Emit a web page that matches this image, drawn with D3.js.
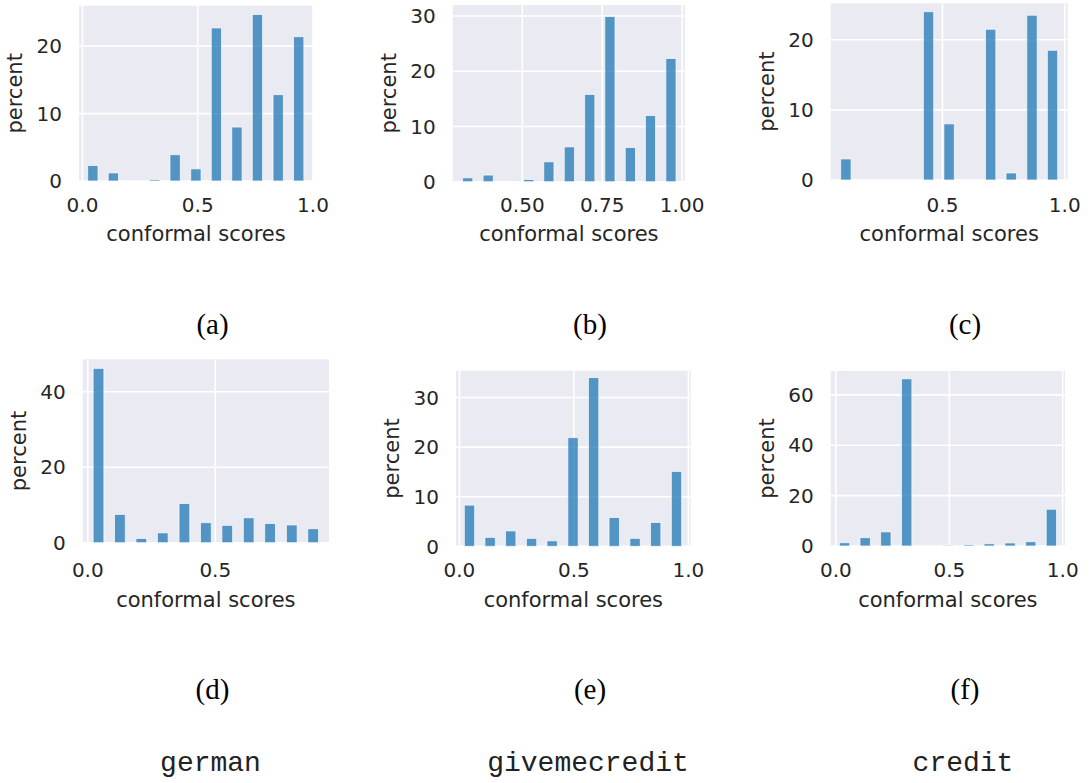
<!DOCTYPE html>
<html lang="en">
<head>
<meta charset="UTF-8">
<title>Conformal scores</title>
<script src="https://cdn.jsdelivr.net/npm/d3@7"></script>
<style>
  body { margin: 0; background: #fff; }
  svg { display: block; }
</style>
</head>
<body>
<div id="chart"></div>
<script>
// bar centres (conformal score) and bar heights (percent) per panel
var scoresA  = [0.045, 0.134, 0.313, 0.402, 0.492, 0.581, 0.670, 0.759, 0.849, 0.938];
var percentA = [2.3, 1.2, 0.2, 3.9, 1.8, 22.7, 8.0, 24.7, 12.8, 21.4];
var scoresB  = [0.329, 0.393, 0.520, 0.583, 0.647, 0.711, 0.774, 0.838, 0.901, 0.965];
var percentB = [0.7, 1.2, 0.4, 3.6, 6.3, 15.8, 29.9, 6.2, 12.0, 22.3];
var scoresC  = [0.105, 0.443, 0.527, 0.697, 0.781, 0.866, 0.950];
var percentC = [3.0, 24.0, 8.0, 21.5, 1.0, 23.5, 18.5];
var scoresD  = [0.042, 0.126, 0.210, 0.294, 0.379, 0.463, 0.547, 0.631, 0.715, 0.800, 0.884];
var percentD = [46.2, 7.5, 1.1, 2.6, 10.4, 5.3, 4.6, 6.6, 5.1, 4.7, 3.7];
var scoresE  = [0.044, 0.134, 0.224, 0.315, 0.405, 0.496, 0.586, 0.676, 0.767, 0.857, 0.948];
var percentE = [8.3, 1.8, 3.1, 1.6, 1.1, 21.9, 34.0, 5.8, 1.6, 4.8, 15.1];
var scoresF  = [0.038, 0.129, 0.220, 0.312, 0.494, 0.585, 0.676, 0.768, 0.859, 0.950];
var percentF = [1.3, 3.3, 5.6, 66.4, 0.3, 0.5, 0.9, 1.2, 1.7, 14.6];
var binWidths = [0.0446, 0.0318, 0.0423, 0.0421, 0.0452, 0.0456];

// axes
var xDomains = [[-0.015, 1.0], [0.282, 1.009], [0.043, 1.012], [-0.02, 0.946], [-0.015, 1.01], [-0.023, 1.01]];
var yMax = [26.0, 32.0, 25.2, 48.6, 35.4, 69.5];
var xTicks = [[0, 0.5, 1], [0.5, 0.75, 1], [0.5, 1], [0, 0.5], [0, 0.5, 1], [0, 0.5, 1]];
var xTickLabels = [["0.0", "0.5", "1.0"], ["0.50", "0.75", "1.00"], ["0.5", "1.0"], ["0.0", "0.5"], ["0.0", "0.5", "1.0"], ["0.0", "0.5", "1.0"]];
var yTicks = [[0, 10, 20], [0, 10, 20, 30], [0, 10, 20], [0, 20, 40], [0, 10, 20, 30], [0, 20, 40, 60]];
var captions = ["(a)", "(b)", "(c)", "(d)", "(e)", "(f)"];
var datasets = ["german", "givemecredit", "credit"];

var scores = [scoresA, scoresB, scoresC, scoresD, scoresE, scoresF];
var percents = [percentA, percentB, percentC, percentD, percentE, percentF];

// plot frames in page pixels
var frames = [
  {l: 79,    r: 313,    t: 5.7,   b: 181},
  {l: 452.7, r: 685,    t: 5,     b: 181.7},
  {l: 830.7, r: 1067.7, t: 3.3,   b: 180},
  {l: 82.7,  r: 329,    t: 359.3, b: 542.7},
  {l: 456,   r: 690.7,  t: 370.7, b: 546.3},
  {l: 830.7, r: 1065,   t: 371,   b: 546}
];
var tickBaseline = [212, 577];
var titleBaseline = [241, 606.5];
var captionX = [212.5, 590, 965];
var captionY = [334, 699];
var datasetY = 771;

var svg = d3.select("#chart").append("svg")
  .attr("width", 1092)
  .attr("height", 783);

frames.forEach(function(f, i) {
  var row = Math.floor(i / 3);
  var x = d3.scaleLinear().domain(xDomains[i]).range([f.l, f.r]);
  var y = d3.scaleLinear().domain([0, yMax[i]]).range([f.b, f.t]);
  var g = svg.append("g");

  g.append("rect")
    .attr("x", f.l).attr("y", f.t)
    .attr("width", f.r - f.l).attr("height", f.b - f.t)
    .attr("fill", "#eaeaf2");

  // grid
  g.selectAll(".vgrid")
    .data(xTicks[i])
    .enter().append("line")
    .attr("x1", function(d) { return x(d); })
    .attr("x2", function(d) { return x(d); })
    .attr("y1", f.t).attr("y2", f.b)
    .attr("stroke", "#fff").attr("stroke-width", 1.6);
  g.selectAll(".hgrid")
    .data(yTicks[i])
    .enter().append("line")
    .attr("x1", f.l).attr("x2", f.r)
    .attr("y1", function(d) { return y(d); })
    .attr("y2", function(d) { return y(d); })
    .attr("stroke", "#fff").attr("stroke-width", 1.6);

  // bars
  var bw = binWidths[i];
  g.selectAll(".bar")
    .data(scores[i].map(function(s, k) { return {s: s, p: percents[i][k]}; }))
    .enter().append("rect")
    .attr("x", function(d) { return x(d.s - bw / 2); })
    .attr("width", function(d) { return x(d.s + bw / 2) - x(d.s - bw / 2); })
    .attr("y", function(d) { return y(d.p); })
    .attr("height", function(d) { return y(0) - y(d.p); })
    .attr("fill", "#1f77b4").attr("fill-opacity", 0.75)
    .attr("stroke", "#fff").attr("stroke-opacity", 0.75).attr("stroke-width", 0.9);

  // tick labels
  g.selectAll(".xt")
    .data(xTicks[i])
    .enter().append("text")
    .attr("x", function(d) { return x(d); })
    .attr("y", tickBaseline[row])
    .attr("text-anchor", "middle")
    .style("font-family", "DejaVu Sans").style("font-size", "20px")
    .attr("fill", "#262626")
    .text(function(d, k) { return xTickLabels[i][k]; });

  var yg = g.append("g");
  yg.selectAll("text")
    .data(yTicks[i])
    .enter().append("text")
    .attr("x", f.l - 17)
    .attr("y", function(d) { return y(d); })
    .attr("dy", "0.36em")
    .attr("text-anchor", "end")
    .style("font-family", "DejaVu Sans").style("font-size", "20px")
    .attr("fill", "#262626")
    .text(function(d) { return d; });

  // axis titles
  g.append("text")
    .attr("x", (f.l + f.r) / 2)
    .attr("y", titleBaseline[row])
    .attr("text-anchor", "middle")
    .style("font-family", "DejaVu Sans").style("font-size", "21px")
    .attr("fill", "#262626")
    .text("conformal scores");

  var left = yg.node().getBBox().x;
  var cx = left - 18, cy = (f.t + f.b) / 2;
  g.append("text")
    .attr("transform", "translate(" + cx + "," + cy + ") rotate(-90)")
    .attr("dy", "0.17em")
    .attr("text-anchor", "middle")
    .style("font-family", "DejaVu Sans").style("font-size", "21px")
    .attr("fill", "#262626")
    .text("percent");

  // subfigure caption
  svg.append("text")
    .attr("x", captionX[i % 3])
    .attr("y", captionY[row])
    .attr("text-anchor", "middle")
    .style("font-family", "Liberation Serif").style("font-size", "29px")
    .attr("fill", "#000")
    .text(captions[i]);
});

svg.selectAll(".dataset")
  .data(datasets)
  .enter().append("text")
  .attr("x", function(d, k) { return captionX[k] - 2; })
  .attr("y", datasetY)
  .attr("text-anchor", "middle")
  .style("font-family", "Liberation Mono").style("font-size", "28px")
  .attr("fill", "#222")
  .text(function(d) { return d; });
</script>
</body>
</html>
